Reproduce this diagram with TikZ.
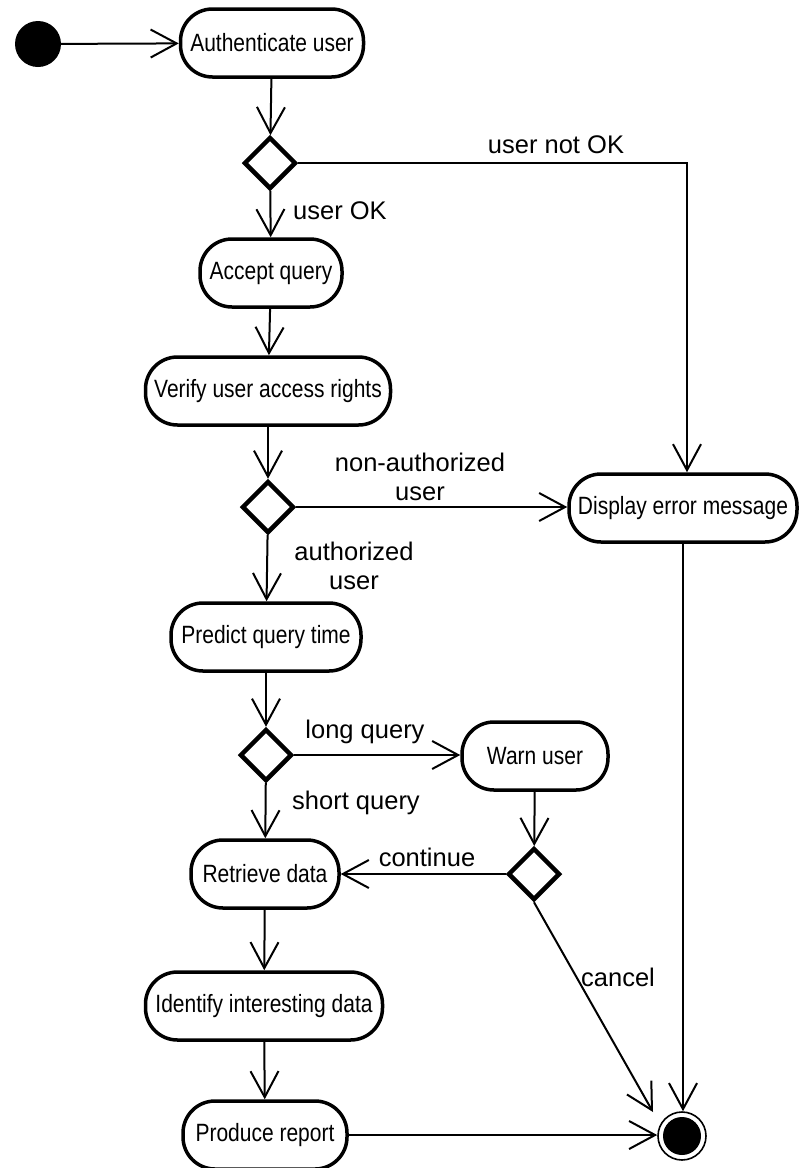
\documentclass[tikz,border=0pt]{standalone}
\usepackage{fontspec}
\setmainfont{Liberation Sans}
\newfontfamily\actfont[FakeStretch=0.84]{Liberation Sans}
\usetikzlibrary{arrows.meta,shapes.geometric}
\begin{document}
\begin{tikzpicture}[x=1pt,y=-1pt,
  activity/.style={draw, line width=3.5pt, rounded corners=32pt, minimum height=68pt,
    inner sep=0pt, font=\actfont\fontsize{25}{29}\selectfont, align=center},
  decision/.style={draw, diamond, line width=4.5pt, minimum width=52pt, minimum height=52pt,
    inner sep=0pt, aspect=1},
  flow/.style={line width=2pt, -{Straight Barb[length=26pt,width=28pt]}},
  lbl/.style={font=\fontsize{25.5}{29}\selectfont, align=center, inner sep=0pt}]
\useasboundingbox (0,0) rectangle (800,1168);

% start and end states
\node[circle, fill=black, minimum size=46pt, inner sep=0pt] (start) at (38,44) {};
\node[circle, draw, line width=1.6pt, minimum size=48pt, inner sep=0pt] (fin) at (682,1136) {};
\fill (fin.center) circle[radius=19pt];

% activities
\node[activity, minimum width=183pt] (auth) at (272,43) {Authenticate user};
\node[activity, minimum width=142pt] (accept) at (271,273) {Accept query};
\node[activity, minimum width=245pt] (verify) at (268,391) {Verify user access rights};
\node[activity, minimum width=228pt] (err) at (683,508) {Display error message};
\node[activity, minimum width=190pt] (predict) at (266,637) {Predict query time};
\node[activity, minimum width=146pt] (warn) at (535,756) {Warn user};
\node[activity, minimum width=148pt] (retrieve) at (265,874) {Retrieve data};
\node[activity, minimum width=237pt] (identify) at (264,1006) {Identify interesting data};
\node[activity, minimum width=164pt] (produce) at (265,1135) {Produce report};

% decisions
\node[decision] (d1) at (270,163) {};
\node[decision] (d2) at (268,507) {};
\node[decision] (d3) at (266,755) {};
\node[decision] (d4) at (534,874) {};

\coordinate (cancelend) at (653,1112);

% transitions
\draw[flow] (start) -- (auth);
\draw[flow] (auth) -- (d1);
\draw[flow] (d1) -- (accept);
\draw[flow] (d1.east) -| ([xshift=4pt]err.north);
\draw[flow] (accept) -- (verify);
\draw[flow] (verify) -- (d2);
\draw[flow] (d2.east) -- (d2.east -| err.west);
\draw[flow] (d2) -- (predict);
\draw[flow] (predict) -- (d3);
\draw[flow] (d3.east) -- (d3.east -| warn.west);
\draw[flow] (d3) -- (retrieve);
\draw[flow] (warn) -- (d4);
\draw[flow] (d4.west) -- (d4.west -| retrieve.east);
\draw[flow] (d4.south) -- (cancelend);
\draw[flow] (err.south) -- (err.south |- fin.north);
\draw[flow] (retrieve) -- (identify);
\draw[flow] (identify) -- (produce);
\draw[flow] (produce.east) -- (produce.east -| fin.west);

% guard labels
\node[lbl] (lnotok) at (556,145) {user not OK};
\node[lbl, anchor=west] (lok) at (293,211) {user OK};
\node[lbl] (lnonauth) at (420,477) {non-authorized\\user};
\node[lbl] (lauth) at (354,566) {authorized\\user};
\node[lbl] (llong) at (365,732) {long query};
\node[lbl] (lshort) at (356,803) {short query};
\node[lbl] (lcont) at (427,857) {continue};
\node[lbl] (lcancel) at (618,977) {cancel};
\end{tikzpicture}
\end{document}
